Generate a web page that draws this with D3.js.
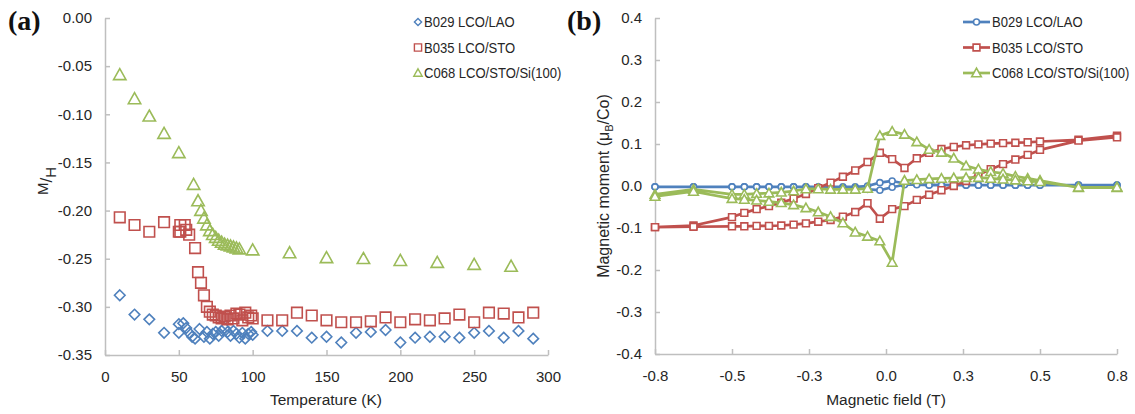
<!DOCTYPE html>
<html>
<head>
<meta charset="utf-8">
<script src="https://cdn.jsdelivr.net/npm/d3@7"></script>
<style>
  body { margin: 0; background: #fff; }
  svg { display: block; font-family: "Liberation Sans", Arial, sans-serif; }
  .axis path, .axis line { stroke: #bfbfbf; stroke-width: 1.5; }
  .axis text { fill: #262626; font-size: 15px; font-family: "Liberation Sans", Arial, sans-serif; }
</style>
</head>
<body>
<svg id="chart" width="1135" height="414"></svg>
<script>
// ---- panel (a): M/H vs temperature ----
const seriesNames = ["B029 LCO/LAO", "B035 LCO/STO", "C068 LCO/STO/Si(100)"];
const seriesColors = ["#4f81bd", "#c0504d", "#9bbb59"];

const tempB029 = [10, 20, 30, 40, 50, 50, 53, 55, 57, 59, 61, 64, 67, 69, 71, 73, 75, 77, 79, 81, 83, 85, 87, 89, 91, 93, 95, 97, 99, 100, 110, 120, 130, 140, 150, 160, 170, 180, 190, 200, 210, 220, 230, 240, 250, 260, 270, 280, 290];
const mhB029 = [-0.288, -0.308, -0.313, -0.327, -0.327, -0.318, -0.317, -0.322, -0.327, -0.331, -0.333, -0.323, -0.331, -0.326, -0.333, -0.328, -0.326, -0.330, -0.325, -0.322, -0.326, -0.330, -0.325, -0.328, -0.332, -0.327, -0.333, -0.328, -0.326, -0.329, -0.325, -0.325, -0.325, -0.332, -0.331, -0.337, -0.327, -0.326, -0.324, -0.337, -0.332, -0.331, -0.331, -0.332, -0.327, -0.325, -0.332, -0.325, -0.333];

const tempB035 = [10, 20, 30, 40, 50, 51, 51, 54, 55, 57, 61, 63, 65, 67, 69, 71, 73, 75, 77, 79, 81, 83, 85, 87, 89, 91, 93, 95, 97, 99, 100, 110, 120, 130, 140, 150, 160, 170, 180, 190, 200, 210, 220, 230, 240, 250, 260, 270, 280, 290];
const mhB035 = [-0.207, -0.215, -0.222, -0.212, -0.222, -0.215, -0.222, -0.215, -0.220, -0.225, -0.239, -0.264, -0.275, -0.288, -0.300, -0.305, -0.308, -0.309, -0.311, -0.312, -0.310, -0.313, -0.309, -0.312, -0.307, -0.308, -0.314, -0.306, -0.311, -0.309, -0.312, -0.314, -0.314, -0.306, -0.309, -0.314, -0.316, -0.316, -0.315, -0.311, -0.316, -0.313, -0.314, -0.312, -0.308, -0.316, -0.306, -0.307, -0.311, -0.306];

const tempC068 = [10, 20, 30, 40, 50, 60, 63, 65, 67, 69, 71, 73, 75, 77, 79, 81, 83, 85, 87, 89, 91, 100, 125, 150, 175, 200, 225, 250, 275];
const mhC068 = [-0.059, -0.084, -0.102, -0.120, -0.140, -0.173, -0.190, -0.200, -0.208, -0.215, -0.221, -0.225, -0.228, -0.231, -0.233, -0.235, -0.236, -0.237, -0.238, -0.239, -0.240, -0.241, -0.244, -0.249, -0.250, -0.252, -0.254, -0.256, -0.258];

const tempTicks = [0, 50, 100, 150, 200, 250, 300];
const mhTicks = [0, -0.05, -0.10, -0.15, -0.20, -0.25, -0.30, -0.35];

// ---- panel (b): hysteresis loops ----
const fieldDown = [0.75, 0.625, 0.50, 0.46, 0.42, 0.38, 0.34, 0.30, 0.26, 0.22, 0.18, 0.14, 0.10, 0.06, 0.02, -0.02, -0.06, -0.10, -0.14, -0.18, -0.22, -0.26, -0.30, -0.34, -0.38, -0.42, -0.46, -0.50, -0.625, -0.75];
const fieldUp = [-0.75, -0.625, -0.50, -0.46, -0.42, -0.38, -0.34, -0.30, -0.26, -0.22, -0.18, -0.14, -0.10, -0.06, -0.02, 0.02, 0.06, 0.10, 0.14, 0.18, 0.22, 0.26, 0.30, 0.34, 0.38, 0.42, 0.46, 0.50, 0.625, 0.75];

const b029Down = [0.002, 0.002, 0.002, 0.002, 0.002, 0.002, 0.002, 0.002, 0.002, 0.002, 0.003, 0.003, 0.004, 0.006, 0.012, 0.008, 0.000, -0.002, -0.002, -0.002, -0.002, -0.002, -0.002, -0.002, -0.002, -0.002, -0.002, -0.002, -0.002, -0.002];
const b029Up = [-0.002, -0.002, -0.002, -0.002, -0.002, -0.002, -0.002, -0.002, -0.002, -0.003, -0.003, -0.004, -0.004, -0.008, -0.010, -0.003, 0.003, 0.003, 0.002, 0.002, 0.002, 0.002, 0.002, 0.002, 0.002, 0.002, 0.002, 0.002, 0.002, 0.002];

const b035Down = [0.120, 0.110, 0.106, 0.104, 0.103, 0.102, 0.101, 0.099, 0.097, 0.093, 0.088, 0.079, 0.066, 0.043, 0.064, 0.079, 0.057, 0.037, 0.022, 0.008, -0.005, -0.019, -0.030, -0.040, -0.048, -0.055, -0.064, -0.074, -0.094, -0.098];
const b035Up = [-0.098, -0.097, -0.096, -0.096, -0.095, -0.095, -0.094, -0.092, -0.089, -0.085, -0.081, -0.073, -0.062, -0.041, -0.078, -0.055, -0.048, -0.033, -0.021, -0.010, 0.000, 0.012, 0.027, 0.040, 0.052, 0.063, 0.074, 0.086, 0.108, 0.116];

const c068Down = [-0.004, -0.004, 0.013, 0.018, 0.023, 0.030, 0.034, 0.040, 0.048, 0.066, 0.080, 0.087, 0.105, 0.123, 0.130, 0.120, -0.006, -0.008, -0.008, -0.008, -0.007, -0.007, -0.012, -0.015, -0.017, -0.018, -0.020, -0.020, -0.008, -0.020];
const c068Up = [-0.025, -0.013, -0.030, -0.032, -0.034, -0.037, -0.040, -0.045, -0.052, -0.062, -0.073, -0.088, -0.110, -0.120, -0.131, -0.182, 0.013, 0.015, 0.017, 0.018, 0.019, 0.020, 0.020, 0.018, 0.016, 0.014, 0.012, 0.010, -0.003, -0.003];

const fieldTicks = [-0.75, -0.5, -0.25, 0, 0.25, 0.5, 0.75];
const fieldTickLabels = ["-0.8", "-0.5", "-0.3", "0.0", "0.3", "0.5", "0.8"];
const momentTicks = [0.4, 0.3, 0.2, 0.1, 0, -0.1, -0.2, -0.3, -0.4];

const svg = d3.select("#chart");

// marker shapes (Excel style)
function markerPath(kind, s) {
  if (kind === "diamond") return `M0,${-s}L${s},0L0,${s}L${-s},0Z`;
  if (kind === "square") return `M${-s},${-s}H${s}V${s}H${-s}Z`;
  if (kind === "triangle") return `M0,${-s}L${s},${s * 0.78}L${-s},${s * 0.78}Z`;
  return d3.symbol(d3.symbolCircle, Math.PI * s * s)();
}

function fmt(d, n) {
  const v = Math.abs(d) < 1e-9 ? 0 : d;
  return (v < 0 ? "-" : "") + Math.abs(v).toFixed(n);
}

// ================= panel (a) =================
const xA = d3.scaleLinear().domain([0, 300]).range([105, 548]);
const yA = d3.scaleLinear().domain([-0.35, 0]).range([355, 18]);

svg.append("g").attr("class", "axis")
  .attr("transform", "translate(0,355)")
  .call(d3.axisBottom(xA).tickValues(tempTicks).tickSizeInner(-5).tickSizeOuter(0).tickPadding(16).tickFormat(d => d));
svg.append("g").attr("class", "axis")
  .attr("transform", "translate(105,0)")
  .call(d3.axisLeft(yA).tickValues(mhTicks).tickSizeInner(-5).tickSizeOuter(0).tickPadding(13).tickFormat(d => fmt(d, 2)));

const panelA = [
  { t: tempB029, v: mhB029, kind: "diamond", size: 5.3 },
  { t: tempB035, v: mhB035, kind: "square", size: 5.3 },
  { t: tempC068, v: mhC068, kind: "triangle", size: 6.2 }
];
panelA.forEach((s, i) => {
  svg.append("g").selectAll("path")
    .data(s.t.map((t, j) => [t, s.v[j]]))
    .enter().append("path")
    .attr("transform", d => `translate(${xA(d[0])},${yA(d[1])})`)
    .attr("d", markerPath(s.kind, s.size))
    .attr("fill", "none")
    .attr("stroke", seriesColors[i])
    .attr("stroke-width", 1.6);
});

// legend (a)
const legA = svg.append("g");
panelA.forEach((s, i) => {
  const yy = 22 + i * 25.5;
  legA.append("path")
    .attr("transform", `translate(418,${yy})`)
    .attr("d", markerPath(s.kind, s.kind === "triangle" ? 4.2 : 3.6))
    .attr("fill", "none").attr("stroke", seriesColors[i]).attr("stroke-width", 1.4);
  legA.append("text")
    .attr("transform", `translate(424,${yy + 5}) scale(0.87,1)`)
    .attr("font-size", 15).attr("fill", "#262626")
    .text(seriesNames[i]);
});

// axis titles (a)
svg.append("text").attr("x", 326).attr("y", 405).attr("text-anchor", "middle")
  .attr("font-size", 15.5).attr("fill", "#262626").text("Temperature (K)");
const mh = svg.append("text").attr("transform", "translate(52,181) rotate(-90)")
  .attr("text-anchor", "middle").attr("fill", "#262626").attr("font-size", 15);
mh.append("tspan").attr("dy", -4).text("M");
mh.append("tspan").attr("dy", 4).attr("font-size", 17).text("/");
mh.append("tspan").attr("dy", 4).text("H");

svg.append("text").attr("x", 8).attr("y", 30)
  .attr("font-family", "'Liberation Serif','Times New Roman',serif")
  .attr("font-weight", "bold").attr("font-size", 28).attr("fill", "#111").text("(a)");

// ================= panel (b) =================
const xB = d3.scaleLinear().domain([-0.75, 0.75]).range([655, 1117]);
const yB = d3.scaleLinear().domain([-0.4, 0.4]).range([354, 18]);

svg.append("g").attr("class", "axis")
  .attr("transform", "translate(0,354)")
  .call(d3.axisBottom(xB).tickValues(fieldTicks).tickSizeInner(-5).tickSizeOuter(0).tickPadding(16)
    .tickFormat((d, i) => fieldTickLabels[i]));
svg.append("g").attr("class", "axis")
  .attr("transform", "translate(655,0)")
  .call(d3.axisLeft(yB).tickValues(momentTicks).tickSizeInner(-5).tickSizeOuter(0).tickPadding(13).tickFormat(d => fmt(d, 1)));

const panelB = [
  { down: b029Down, up: b029Up, kind: "circle", size: 3 },
  { down: b035Down, up: b035Up, kind: "square", size: 3.4 },
  { down: c068Down, up: c068Up, kind: "triangle", size: 4.8 }
];
const line = d3.line().x(d => xB(d[0])).y(d => yB(d[1]));
panelB.forEach((s, i) => {
  const pts = fieldDown.map((f, j) => [f, s.down[j]]).concat(fieldUp.map((f, j) => [f, s.up[j]]));
  const g = svg.append("g");
  g.append("path").attr("d", line(pts)).attr("fill", "none")
    .attr("stroke", seriesColors[i]).attr("stroke-width", 2.7).attr("stroke-linejoin", "round");
  g.selectAll(".m").data(pts).enter().append("path")
    .attr("transform", d => `translate(${xB(d[0])},${yB(d[1])})`)
    .attr("d", markerPath(s.kind, s.size))
    .attr("fill", "#fff").attr("stroke", seriesColors[i]).attr("stroke-width", 1.6);
});

// legend (b)
const legB = svg.append("g");
panelB.forEach((s, i) => {
  const yy = 22 + i * 25.5;
  legB.append("line").attr("x1", 963).attr("x2", 990).attr("y1", yy).attr("y2", yy)
    .attr("stroke", seriesColors[i]).attr("stroke-width", 2.7);
  legB.append("path").attr("transform", `translate(976.5,${yy})`)
    .attr("d", markerPath(s.kind, s.size))
    .attr("fill", "#fff").attr("stroke", seriesColors[i]).attr("stroke-width", 1.6);
  legB.append("text")
    .attr("transform", `translate(992,${yy + 5}) scale(0.87,1)`)
    .attr("font-size", 15).attr("fill", "#262626")
    .text(seriesNames[i]);
});

// axis titles (b)
svg.append("text").attr("x", 886).attr("y", 405).attr("text-anchor", "middle")
  .attr("font-size", 15.5).attr("fill", "#262626").text("Magnetic field (T)");
const ym = svg.append("text").attr("transform", "translate(609,186) rotate(-90)")
  .attr("text-anchor", "middle").attr("fill", "#262626").attr("font-size", 16);
ym.append("tspan").text("Magnetic moment (\u03bc");
ym.append("tspan").attr("dy", 4).attr("font-size", 11).text("B");
ym.append("tspan").attr("dy", -4).text("/Co)");

svg.append("text").attr("x", 567).attr("y", 30)
  .attr("font-family", "'Liberation Serif','Times New Roman',serif")
  .attr("font-weight", "bold").attr("font-size", 28).attr("fill", "#111").text("(b)");
</script>
</body>
</html>
